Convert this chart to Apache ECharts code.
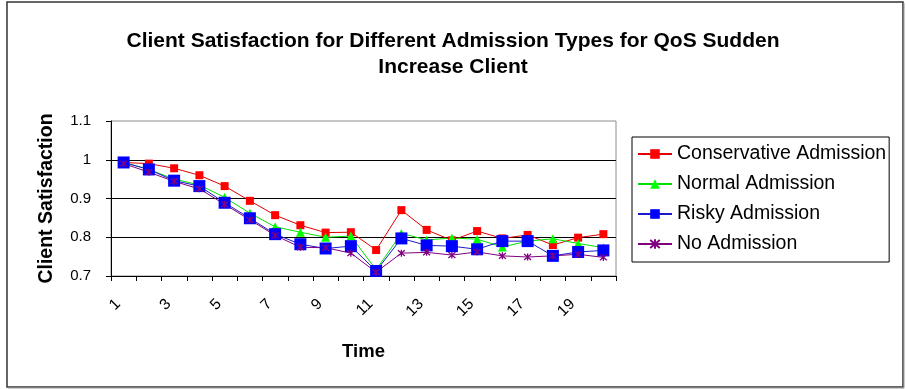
<!DOCTYPE html>
<html>
<head>
<meta charset="utf-8">
<script src="https://cdn.jsdelivr.net/npm/echarts@6/dist/echarts.min.js"></script>
<style>
  html, body { margin: 0; padding: 0; background: #fff; }
  #chart { width: 906px; height: 389px; }
</style>
</head>
<body>
<div id="chart"></div>
<script>
// Time steps 1..20
const timeSteps = ['1','2','3','4','5','6','7','8','9','10','11','12','13','14','15','16','17','18','19','20'];

// Client satisfaction per admission policy
const conservative = [0.993, 0.990, 0.978, 0.960, 0.932, 0.894, 0.857, 0.831, 0.812, 0.813, 0.767, 0.870, 0.819, 0.792, 0.816, 0.797, 0.806, 0.780, 0.799, 0.808];
const normal       = [0.993, 0.975, 0.950, 0.935, 0.903, 0.862, 0.827, 0.813, 0.800, 0.803, 0.716, 0.810, 0.793, 0.798, 0.795, 0.775, 0.790, 0.796, 0.784, 0.773];
const risky        = [0.993, 0.975, 0.946, 0.932, 0.889, 0.849, 0.808, 0.782, 0.771, 0.777, 0.713, 0.797, 0.779, 0.777, 0.769, 0.790, 0.790, 0.752, 0.762, 0.766];
const noAdmission  = [0.990, 0.968, 0.944, 0.925, 0.885, 0.845, 0.805, 0.774, 0.773, 0.759, 0.710, 0.759, 0.761, 0.754, 0.762, 0.752, 0.749, 0.752, 0.756, 0.748];

const seriesNames = ['Conservative Admission', 'Normal Admission', 'Risky Admission', 'No Admission'];

const FONT = 'Liberation Sans, Arial, sans-serif';
const asterisk = 'path://M0,0L10,10M10,0L0,10M5,-1L5,11';

const chart = echarts.init(document.getElementById('chart'), null, { renderer: 'canvas' });

chart.setOption({
  animation: false,
  backgroundColor: '#ffffff',
  title: {
    text: 'Client Satisfaction for Different Admission Types for QoS Sudden\nIncrease Client',
    left: 'center',
    top: 23,
    textStyle: { fontFamily: FONT, fontSize: 21, fontWeight: 'bold', color: '#000', lineHeight: 26 }
  },
  graphic: [{
    type: 'rect',
    shape: { x: 7, y: 2, width: 896, height: 385 },
    style: { fill: 'none', stroke: '#333', lineWidth: 1.5 },
    silent: true, z: -1
  }, {
    type: 'polyline',
    shape: { points: [[904, 3], [904, 388], [8, 388]] },
    style: { fill: 'none', stroke: '#999', lineWidth: 1 },
    silent: true, z: -1
  }],
  legend: {
    orient: 'vertical',
    left: 632,
    top: 137,
    padding: [7, 3, 8, 5],
    itemGap: 10,
    itemWidth: 34,
    itemHeight: 12,
    borderColor: '#000',
    borderWidth: 1,
    textStyle: { fontFamily: FONT, fontSize: 19.5, color: '#000', lineHeight: 20 },
    data: seriesNames
  },
  grid: {
    left: 111, right: 290, top: 121, bottom: 113,
    show: true, borderColor: '#8c8c8c', borderWidth: 1, backgroundColor: '#fff'
  },
  xAxis: {
    type: 'category',
    data: timeSteps,
    boundaryGap: true,
    name: 'Time',
    nameLocation: 'middle',
    nameGap: 66,
    nameTextStyle: { fontFamily: FONT, fontSize: 18.5, fontWeight: 'bold', color: '#000' },
    axisLine: { lineStyle: { color: '#000', width: 1 } },
    axisTick: { show: true, inside: false, length: 5, interval: 0, alignWithLabel: false, lineStyle: { color: '#000' } },
    axisLabel: {
      interval: 1, rotate: 45, margin: 20,
      padding: [0, 8, 0, 0],
      fontFamily: FONT, fontSize: 15.5, color: '#000'
    },
    splitLine: { show: false }
  },
  yAxis: {
    type: 'value',
    min: 0.7, max: 1.1, interval: 0.1,
    name: 'Client Satisfaction',
    nameLocation: 'middle',
    nameGap: 54,
    nameRotate: 90,
    nameTextStyle: { fontFamily: FONT, fontSize: 19.5, fontWeight: 'bold', color: '#000' },
    axisLine: { show: true, lineStyle: { color: '#000', width: 1 } },
    axisTick: { show: true, inside: false, length: 5, lineStyle: { color: '#000' } },
    axisLabel: {
      margin: 20, fontFamily: FONT, fontSize: 15, color: '#000',
      formatter: v => String(Math.round(v * 10) / 10)
    },
    splitLine: { show: true, showMinLine: false, showMaxLine: false, lineStyle: { color: '#000', width: 1 } }
  },
  series: [
    {
      name: seriesNames[0], type: 'line', data: conservative,
      symbol: 'rect', symbolSize: 8,
      itemStyle: { color: '#ff0000' },
      lineStyle: { color: '#e00000', width: 1 }
    },
    {
      name: seriesNames[1], type: 'line', data: normal,
      symbol: 'triangle', symbolSize: 9,
      itemStyle: { color: '#00ff00' },
      lineStyle: { color: '#00e000', width: 1 }
    },
    {
      name: seriesNames[2], type: 'line', data: risky,
      symbol: 'rect', symbolSize: 12,
      itemStyle: { color: '#0000ff' },
      lineStyle: { color: '#1a1acc', width: 1 }
    },
    {
      name: seriesNames[3], type: 'line', data: noAdmission,
      symbol: asterisk, symbolSize: 7,
      itemStyle: { color: '#800080', borderColor: '#800080', borderWidth: 1.3 },
      lineStyle: { color: '#800080', width: 1 }
    }
  ]
});
</script>
</body>
</html>
